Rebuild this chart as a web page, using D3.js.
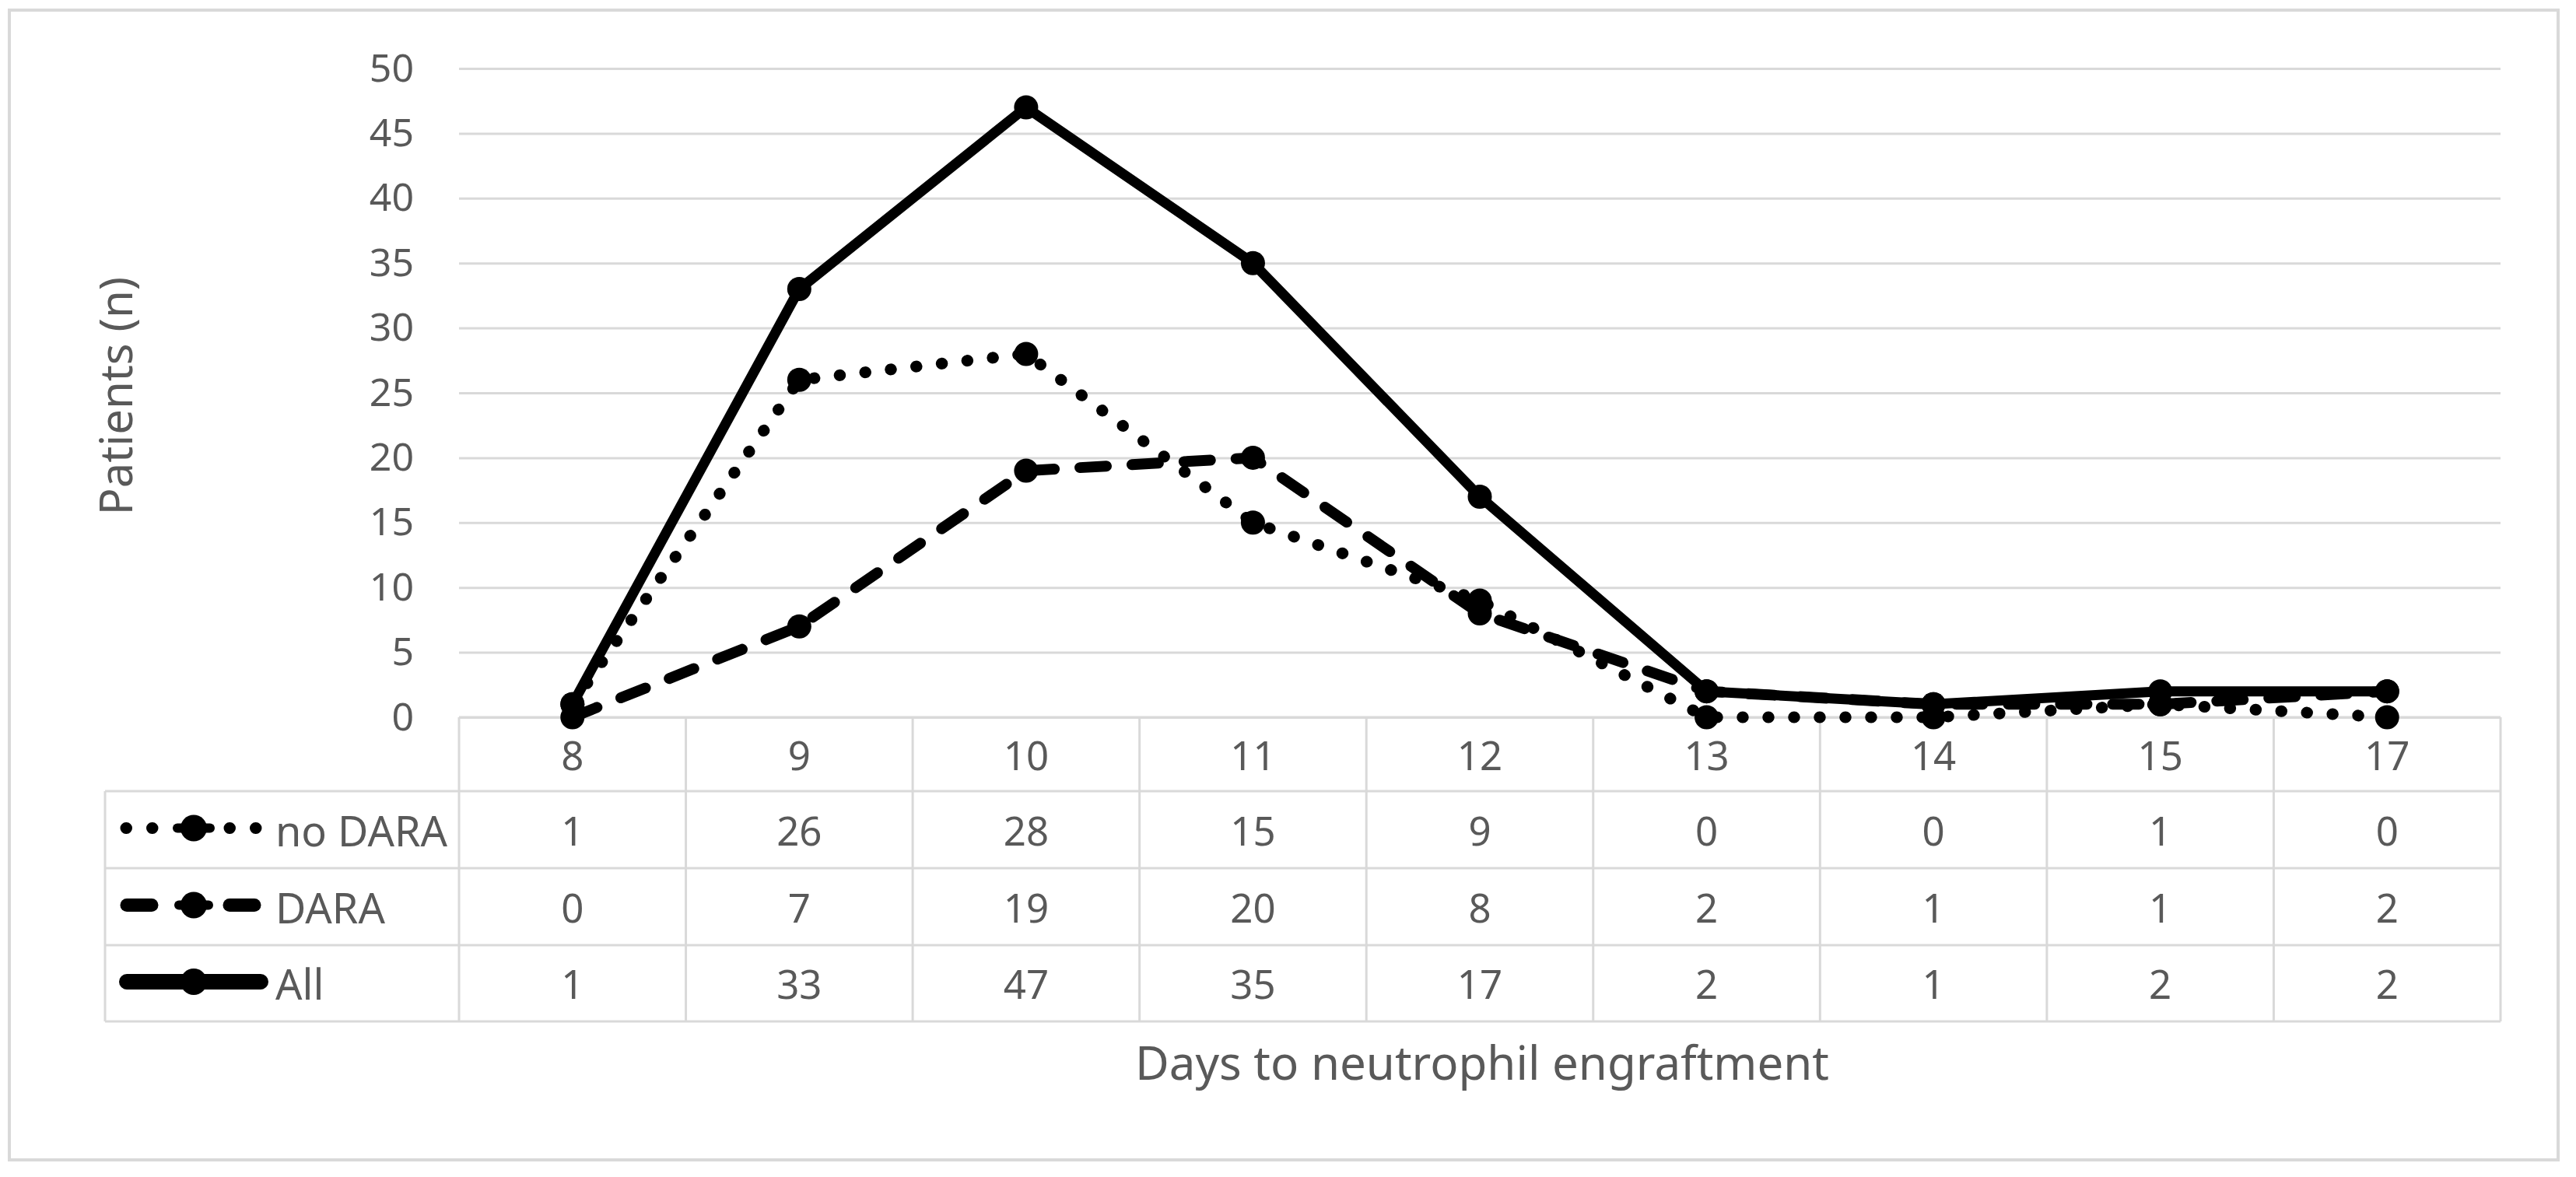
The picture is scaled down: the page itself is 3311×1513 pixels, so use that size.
<!DOCTYPE html>
<html>
<head>
<meta charset="utf-8">
<script src="https://cdn.jsdelivr.net/npm/d3@7"></script>
<style>
  html, body { margin: 0; padding: 0; background: #ffffff; }
  svg { display: block; }
  text { font-family: "Noto Sans", "DejaVu Sans", sans-serif; fill: #595959; }
</style>
</head>
<body>
<svg id="chart" width="3311" height="1513"></svg>
<script>
// ---- data ----
const days = ["8", "9", "10", "11", "12", "13", "14", "15", "17"];
const noDARA = [1, 26, 28, 15, 9, 0, 0, 1, 0];
const DARA = [0, 7, 19, 20, 8, 2, 1, 1, 2];
const All = [1, 33, 47, 35, 17, 2, 1, 2, 2];
const seriesNames = ["no DARA", "DARA", "All"];
const yTicks = [0, 5, 10, 15, 20, 25, 30, 35, 40, 45, 50];
const yTitle = "Patients (n)";
const xTitle = "Days to neutrophil engraftment";

// ---- layout ----
const W = 3311, H = 1513;
const plot = { x0: 590, x1: 3214, y0: 922, y1: 88 };
const tableLeft = 135;
const rowEdges = [922, 1017, 1116, 1215, 1313];
const grid = "#d9d9d9";

const svg = d3.select("#chart");
svg.append("rect").attr("x", 0).attr("y", 0).attr("width", W).attr("height", H).attr("fill", "#fff");
svg.append("rect").attr("x", 12).attr("y", 13).attr("width", 3276).attr("height", 1478)
  .attr("fill", "none").attr("stroke", grid).attr("stroke-width", 4);

const x = d3.scaleBand().domain(days).range([plot.x0, plot.x1]).paddingInner(0).paddingOuter(0);
const y = d3.scaleLinear().domain([0, 50]).range([plot.y0, plot.y1]);
const cx = d => x(d) + x.bandwidth() / 2;

// y axis with gridlines
const yAxis = svg.append("g").attr("transform", `translate(${plot.x0},0)`)
  .call(d3.axisLeft(y).tickValues(yTicks).tickSize(-(plot.x1 - plot.x0)).tickPadding(58).tickFormat(d3.format("d")));
yAxis.select(".domain").remove();
yAxis.selectAll(".tick line").attr("stroke", grid).attr("stroke-width", 3);
yAxis.selectAll(".tick text").attr("font-size", 50).attr("fill", "#595959")
  .style("font-family", '"Noto Sans", sans-serif');

// y title
svg.append("text").attr("transform", `translate(170,509) rotate(-90)`)
  .attr("text-anchor", "middle").attr("font-size", 58).text(yTitle);

// ---- data table ----
const tbl = svg.append("g");
rowEdges.forEach((ry, i) => {
  tbl.append("line").attr("x1", i === 0 ? plot.x0 : tableLeft).attr("x2", plot.x1)
    .attr("y1", ry).attr("y2", ry).attr("stroke", grid).attr("stroke-width", 3);
});
const colEdges = days.map(d => x(d)).concat([plot.x1]);
colEdges.forEach(ex => {
  tbl.append("line").attr("x1", ex).attr("x2", ex).attr("y1", rowEdges[0]).attr("y2", rowEdges[4])
    .attr("stroke", grid).attr("stroke-width", 3);
});
tbl.append("line").attr("x1", tableLeft).attr("x2", tableLeft).attr("y1", rowEdges[1]).attr("y2", rowEdges[4])
  .attr("stroke", grid).attr("stroke-width", 3);

days.forEach(d => {
  tbl.append("text").attr("x", cx(d)).attr("y", (rowEdges[0] + rowEdges[1]) / 2)
    .attr("text-anchor", "middle").attr("dominant-baseline", "central").attr("font-size", 51).text(d);
});

const seriesData = [noDARA, DARA, All];
const styles = [
  { width: 15, dash: "0.5 32.5" },
  { width: 14, dash: "34 33" },
  { width: 13, dash: null }
];

seriesData.forEach((vals, si) => {
  const cy = (rowEdges[si + 1] + rowEdges[si + 2]) / 2;
  vals.forEach((v, i) => {
    tbl.append("text").attr("x", cx(days[i])).attr("y", cy)
      .attr("text-anchor", "middle").attr("dominant-baseline", "central").attr("font-size", 51).text(v);
  });
  // legend key
  const ky = cy - 2;
  const keySeg = (a, b, w, dash) => {
    const l = tbl.append("line").attr("x1", a).attr("x2", b).attr("y1", ky).attr("y2", ky)
      .attr("stroke", "#000").attr("stroke-width", w).attr("stroke-linecap", "round");
    if (dash) l.attr("stroke-dasharray", dash);
  };
  if (si === 0) { keySeg(162, 196, 15, "0.5 33"); keySeg(295, 329, 15, "0.5 33"); keySeg(228, 270, 12, null); }
  if (si === 1) { keySeg(163, 195, 17, null); keySeg(295, 327, 17, null); keySeg(230, 268, 12, null); }
  if (si === 2) { keySeg(163, 335, 20, null); }
  tbl.append("circle").attr("cx", 249).attr("cy", ky).attr("r", 17).attr("fill", "#000");
  tbl.append("text").attr("x", 354).attr("y", cy).attr("dominant-baseline", "central")
    .attr("font-size", 54).text(seriesNames[si]);
});

// ---- lines ----
const line = d3.line().x((d, i) => cx(days[i])).y(d => y(d));
const lines = svg.append("g");
seriesData.forEach((vals, si) => {
  const st = styles[si];
  const p = lines.append("path").datum(vals).attr("d", line).attr("fill", "none")
    .attr("stroke", "#000").attr("stroke-width", st.width)
    .attr("stroke-linecap", "round").attr("stroke-linejoin", "round");
  if (st.dash) p.attr("stroke-dasharray", st.dash);
  lines.selectAll(null).data(vals).enter().append("circle")
    .attr("cx", (d, i) => cx(days[i])).attr("cy", d => y(d))
    .attr("r", 15.5).attr("fill", "#000");
});

// x title
svg.append("text").attr("x", 1905).attr("y", 1365).attr("text-anchor", "middle")
  .attr("dominant-baseline", "central").attr("font-size", 60).text(xTitle);
</script>
</body>
</html>
